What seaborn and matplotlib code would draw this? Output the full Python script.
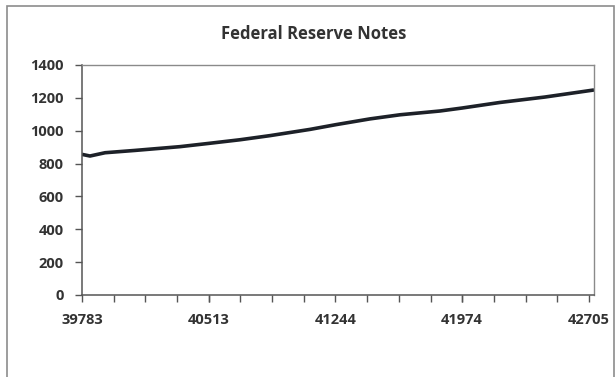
import matplotlib
matplotlib.use("Agg")
import matplotlib.pyplot as plt
import seaborn as sns
import pandas as pd
from matplotlib.patches import Rectangle

# Federal Reserve notes outstanding, by Excel serial date
dates = [39783, 39829, 39916, 40088, 40348, 40515, 40694, 40866, 41097,
         41247, 41443, 41616, 41846, 41973, 42192, 42451, 42734]
values = [856, 846, 866, 880, 903, 923, 945, 970, 1008,
          1037, 1072, 1097, 1120, 1138, 1172, 1205, 1248]

major_ticks = [39783, 40513, 41244, 41974, 42705]
y_ticks = [0, 200, 400, 600, 800, 1000, 1200, 1400]
title = "Federal Reserve Notes"

df = pd.DataFrame({"date": dates, "notes": values})

sns.set_style("white")
plt.rcParams["font.family"] = ["Open Sans", "DejaVu Sans"]

W, H = 615, 377
fig = plt.figure(figsize=(W / 100, H / 100), dpi=100)
ax = fig.add_axes([82 / W, 1 - 295 / H, 512 / W, 230 / H])

sns.lineplot(data=df, x="date", y="notes", ax=ax, color="#1d2128",
             linewidth=2.6, solid_capstyle="butt")

ax.set_xlim(39783, 42734)
ax.set_ylim(0, 1400)
ax.set_xticks(major_ticks)
ax.set_xticklabels([str(t) for t in major_ticks])
half = (42705 - 39783) / 16
ax.set_xticks([39783 + k * half for k in range(17)], minor=True)
ax.set_yticks(y_ticks)
ax.set_yticklabels([str(t) for t in y_ticks])
ax.set_xlabel("")
ax.set_ylabel("")

ax.tick_params(axis="both", which="both", direction="out", length=5,
               width=1, color="#555555", labelsize=10.5, labelcolor="#333333")
ax.tick_params(axis="x", which="major", pad=8, bottom=True)
ax.tick_params(axis="x", which="minor", bottom=True, length=5)
ax.tick_params(axis="y", pad=8, left=True)
for lab in ax.get_xticklabels() + ax.get_yticklabels():
    lab.set_fontweight("bold")

for side in ["left", "bottom"]:
    ax.spines[side].set_color("#555555")
    ax.spines[side].set_linewidth(1.1)
for side in ["top", "right"]:
    ax.spines[side].set_color("#8a8a8a")
    ax.spines[side].set_linewidth(1.0)

fig.text(314 / W, 1 - 34 / H, title, ha="center", va="center",
         fontsize=12, fontweight="bold", color="#333333")

# chart border
fig.patches.append(Rectangle((7 / W, -0.05), 607 / W, 1.05 - 6 / H,
                             transform=fig.transFigure, fill=False,
                             edgecolor="#8c8c8c", linewidth=1.2,
                             clip_on=False))

fig.savefig("out.png", dpi=100)
